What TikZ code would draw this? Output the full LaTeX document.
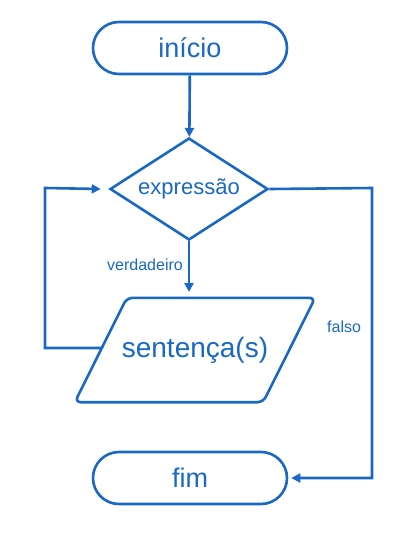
\documentclass[tikz,border=0pt]{standalone}
\usepackage{fontspec}
\setmainfont{Liberation Sans}
\usetikzlibrary{shapes.geometric,shapes.misc,arrows.meta}
\definecolor{fc}{RGB}{24,104,196}
\tikzset{
  line/.style={draw=fc,line width=2.6pt},
  term/.style={line,rounded rectangle,minimum width=194pt,minimum height=52pt,text=fc,font=\fontsize{27}{30}\selectfont,inner sep=0pt},
  dec/.style={line,diamond,aspect=1.55,minimum width=158pt,minimum height=102pt,text=fc,font=\fontsize{22}{26}\selectfont,inner sep=0pt},
  procbox/.style={minimum width=240pt,minimum height=104pt,text=fc,font=\fontsize{28}{32}\selectfont,inner sep=0pt},
  conn/.style={line,-{Triangle[length=9pt,width=9pt]}},
  lbl/.style={text=fc,font=\fontsize{16}{18}\selectfont,inner sep=0pt}
}
\begin{document}
\begin{tikzpicture}[x=1pt,y=-1pt]
\useasboundingbox (0,0) rectangle (414,558);
\node[term] (ini) at (190,48) {início};
\node[dec] (exp) at (189,189) {expressão};
\node[procbox] (sen) at (195,350) {sentença(s)};
\draw[line,rounded corners=6pt] (sen.south west) -- ([xshift=52pt]sen.north west) -- (sen.north east) -- ([xshift=-52pt]sen.south east) -- cycle;
\node[term] (fim) at (190,478) {fim};
\coordinate (pl) at (101,348);
\coordinate (pt) at (189,292);
\coordinate (lc1) at (45,348);
\coordinate (lc2) at (45,188);
\coordinate (rc1) at (372,188);
\coordinate (rc2) at (372,478);
\draw[conn] (ini) -- (exp);
\draw[conn] (exp) -- (pt);
\draw[conn] (pl) -- (lc1) -- (lc2) -- ([xshift=-8pt]exp.west);
\draw[conn] (exp.east) -- (rc1) -- (rc2) -- ([xshift=3pt]fim.east);
\node[lbl,anchor=east] (v) at (183,265) {verdadeiro};
\node[lbl,anchor=west] (f) at (327,327) {falso};
\end{tikzpicture}
\end{document}
